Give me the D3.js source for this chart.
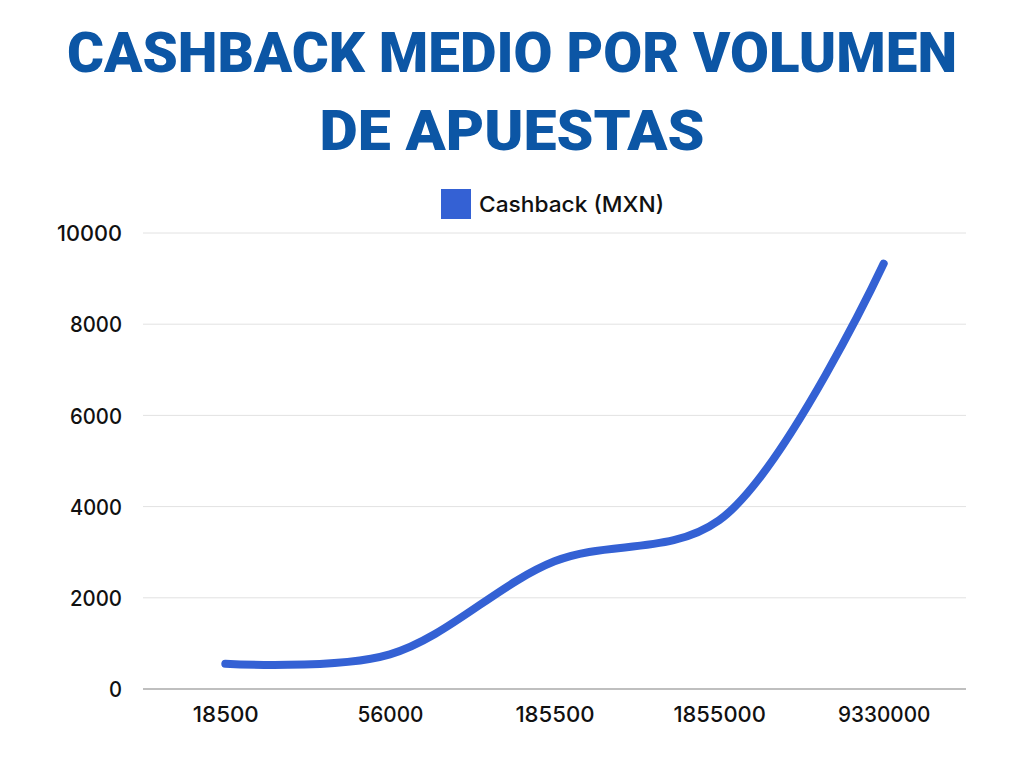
<!DOCTYPE html>
<html>
<head>
<meta charset="utf-8">
<script src="https://cdn.jsdelivr.net/npm/d3@7"></script>
<style>
  html, body { margin: 0; padding: 0; background: #ffffff; }
  svg { display: block; }
</style>
</head>
<body>
<svg id="chart" width="1024" height="768"></svg>
<script>
const titleLines = ["CASHBACK MEDIO POR VOLUMEN", "DE APUESTAS"];
const seriesName = "Cashback (MXN)";
const categories = ["18500", "56000", "185500", "1855000", "9330000"];
const cashback = [555, 760, 2800, 3700, 9330];
const yTicks = [0, 2000, 4000, 6000, 8000, 10000];

const svg = d3.select("#chart");
const W = 1024, H = 768;
const margin = { left: 143, right: 58, top: 233, bottom: 79 };
const x0 = margin.left, x1 = W - margin.right;
const y0 = H - margin.bottom, y1 = margin.top;

const blue = "#3461d4";
const titleColor = "#0c56a5";
const fontTick = "'Inter', 'Roboto', sans-serif";

// Title
const titleY = [72, 150];
const titleWidths = [890, 385];
titleLines.forEach((t, i) => {
  svg.append("text")
    .attr("x", W / 2)
    .attr("y", titleY[i])
    .attr("text-anchor", "middle")
    .attr("font-family", "'Roboto', 'DejaVu Sans', sans-serif")
    .attr("font-weight", 900)
    .attr("font-size", 56)
    .attr("fill", titleColor)
    .attr("textLength", titleWidths[i])
    .attr("lengthAdjust", "spacingAndGlyphs")
    .text(t);
});

// Scales
const x = d3.scalePoint().domain(categories).range([x0, x1]).padding(0.5);
const y = d3.scaleLinear().domain([0, 10000]).range([y0, y1]);

// Gridlines
svg.append("g")
  .selectAll("line")
  .data(yTicks.filter(d => d > 0))
  .join("line")
  .attr("x1", x0).attr("x2", x1)
  .attr("y1", d => y(d)).attr("y2", d => y(d))
  .attr("stroke", "#e2e2e2")
  .attr("stroke-width", 1);

// Y axis labels
const yAxis = d3.axisLeft(y).tickValues(yTicks).tickSize(0).tickPadding(0).tickFormat(d3.format("d"));
const gy = svg.append("g").attr("transform", `translate(${x0 - 21},0)`).call(yAxis);
gy.select(".domain").remove();
gy.selectAll("text")
  .attr("font-family", fontTick)
  .attr("font-weight", 500)
  .attr("font-size", 22)
  .attr("fill", "#111")
  .attr("dy", "0.35em");
gy.selectAll("text").each(function() {
  const el = d3.select(this);
  el.attr("textLength", el.text().length * 13).attr("lengthAdjust", "spacingAndGlyphs");
});

// X axis
const xAxis = d3.axisBottom(x).tickSize(0).tickPadding(0);
const gx = svg.append("g").attr("transform", `translate(0,${y0})`).call(xAxis);
gx.select(".domain").attr("stroke", "#aaaaaa").attr("stroke-width", 1.3)
  .attr("d", `M${x0},0H${x1}`);
gx.selectAll("text")
  .attr("font-family", fontTick)
  .attr("font-weight", 500)
  .attr("font-size", 22)
  .attr("fill", "#111")
  .attr("dy", "33");
gx.selectAll("text").each(function() {
  const el = d3.select(this);
  el.attr("textLength", el.text().length * 13.2).attr("lengthAdjust", "spacingAndGlyphs");
});

// Line
const line = d3.line()
  .x((d, i) => x(categories[i]))
  .y(d => y(d))
  .curve(d3.curveCatmullRom.alpha(0.5));
svg.append("path")
  .datum(cashback)
  .attr("d", line)
  .attr("fill", "none")
  .attr("stroke", blue)
  .attr("stroke-width", 8)
  .attr("stroke-linecap", "round")
  .attr("stroke-linejoin", "round");

// Legend
svg.append("rect")
  .attr("x", 441).attr("y", 189)
  .attr("width", 30).attr("height", 30)
  .attr("fill", blue);
svg.append("text")
  .attr("x", 479).attr("y", 212)
  .attr("font-family", fontTick)
  .attr("font-weight", 500)
  .attr("font-size", 22)
  .attr("fill", "#111")
  .attr("textLength", 185)
  .attr("lengthAdjust", "spacingAndGlyphs")
  .text(seriesName);
</script>
</body>
</html>
